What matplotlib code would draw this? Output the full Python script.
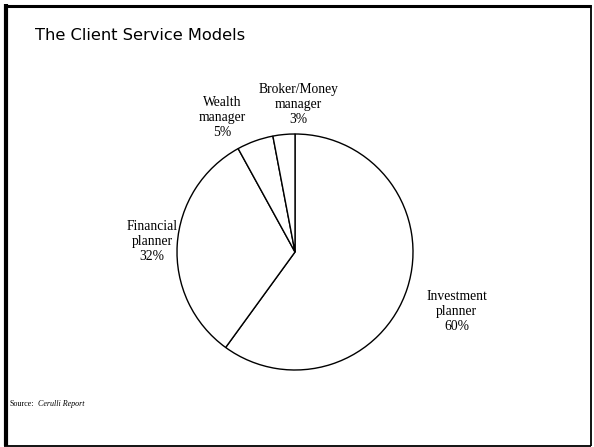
import matplotlib.pyplot as plt
from matplotlib.lines import Line2D

# -------------------------------------------------
# Data
# -------------------------------------------------

models = ["Investment\nplanner", "Financial\nplanner", "Wealth\nmanager", "Broker/Money\nmanager"]
shares = [60, 32, 5, 3]

# label centres in axes data units (pie radius = 1)
label_pos = [(1.37, -0.50), (-1.21, 0.09), (-0.62, 1.14), (0.03, 1.25)]

W, H = 594, 447

# -------------------------------------------------
# Figure
# -------------------------------------------------

fig = plt.figure(figsize=(W / 100, H / 100), dpi=100)
fig.patch.set_facecolor("white")


def frame_line(x0, y0, x1, y1, lw):
    # pixel coords, origin top-left
    fig.add_artist(Line2D([x0 / W, x1 / W], [1 - y0 / H, 1 - y1 / H],
                          transform=fig.transFigure, color="black",
                          linewidth=lw, solid_capstyle="butt"))


# slide border: heavy left/top, light right/bottom
frame_line(4, 5.5, 591, 5.5, 2.2)
frame_line(5.5, 4, 5.5, 446, 3.0)
frame_line(590.5, 4.5, 590.5, 446, 1.3)
frame_line(4, 445.5, 591, 445.5, 1.3)

fig.text(35 / W, 1 - 35 / H, "The Client Service Models", fontsize=11.7,
         family="DejaVu Sans", va="center", ha="left")

ax = fig.add_axes([177 / W, (H - 252 - 118) / H, 236 / W, 236 / H])

wedges, _ = ax.pie(
    shares,
    startangle=90,
    counterclock=False,
    colors=["white"] * len(shares),
    wedgeprops=dict(edgecolor="black", linewidth=1.0),
)

for name, pct, (lx, ly) in zip(models, shares, label_pos):
    ax.text(lx, ly, f"{name}\n{pct}%", ha="center", va="center",
            fontsize=9.8, family="Liberation Serif", linespacing=1.2)

ax.set_xlim(-1.0, 1.0)
ax.set_ylim(-1.0, 1.0)
ax.set_aspect("auto")
ax.axis("off")

fig.text(10 / W, 1 - 404 / H, "Source:", fontsize=5.8,
         family="Liberation Serif", va="center", ha="left")
fig.text(38 / W, 1 - 404 / H, "Cerulli Report", fontsize=5.8,
         family="Liberation Serif", style="italic", va="center", ha="left")

fig.savefig("out.png", dpi=100)
